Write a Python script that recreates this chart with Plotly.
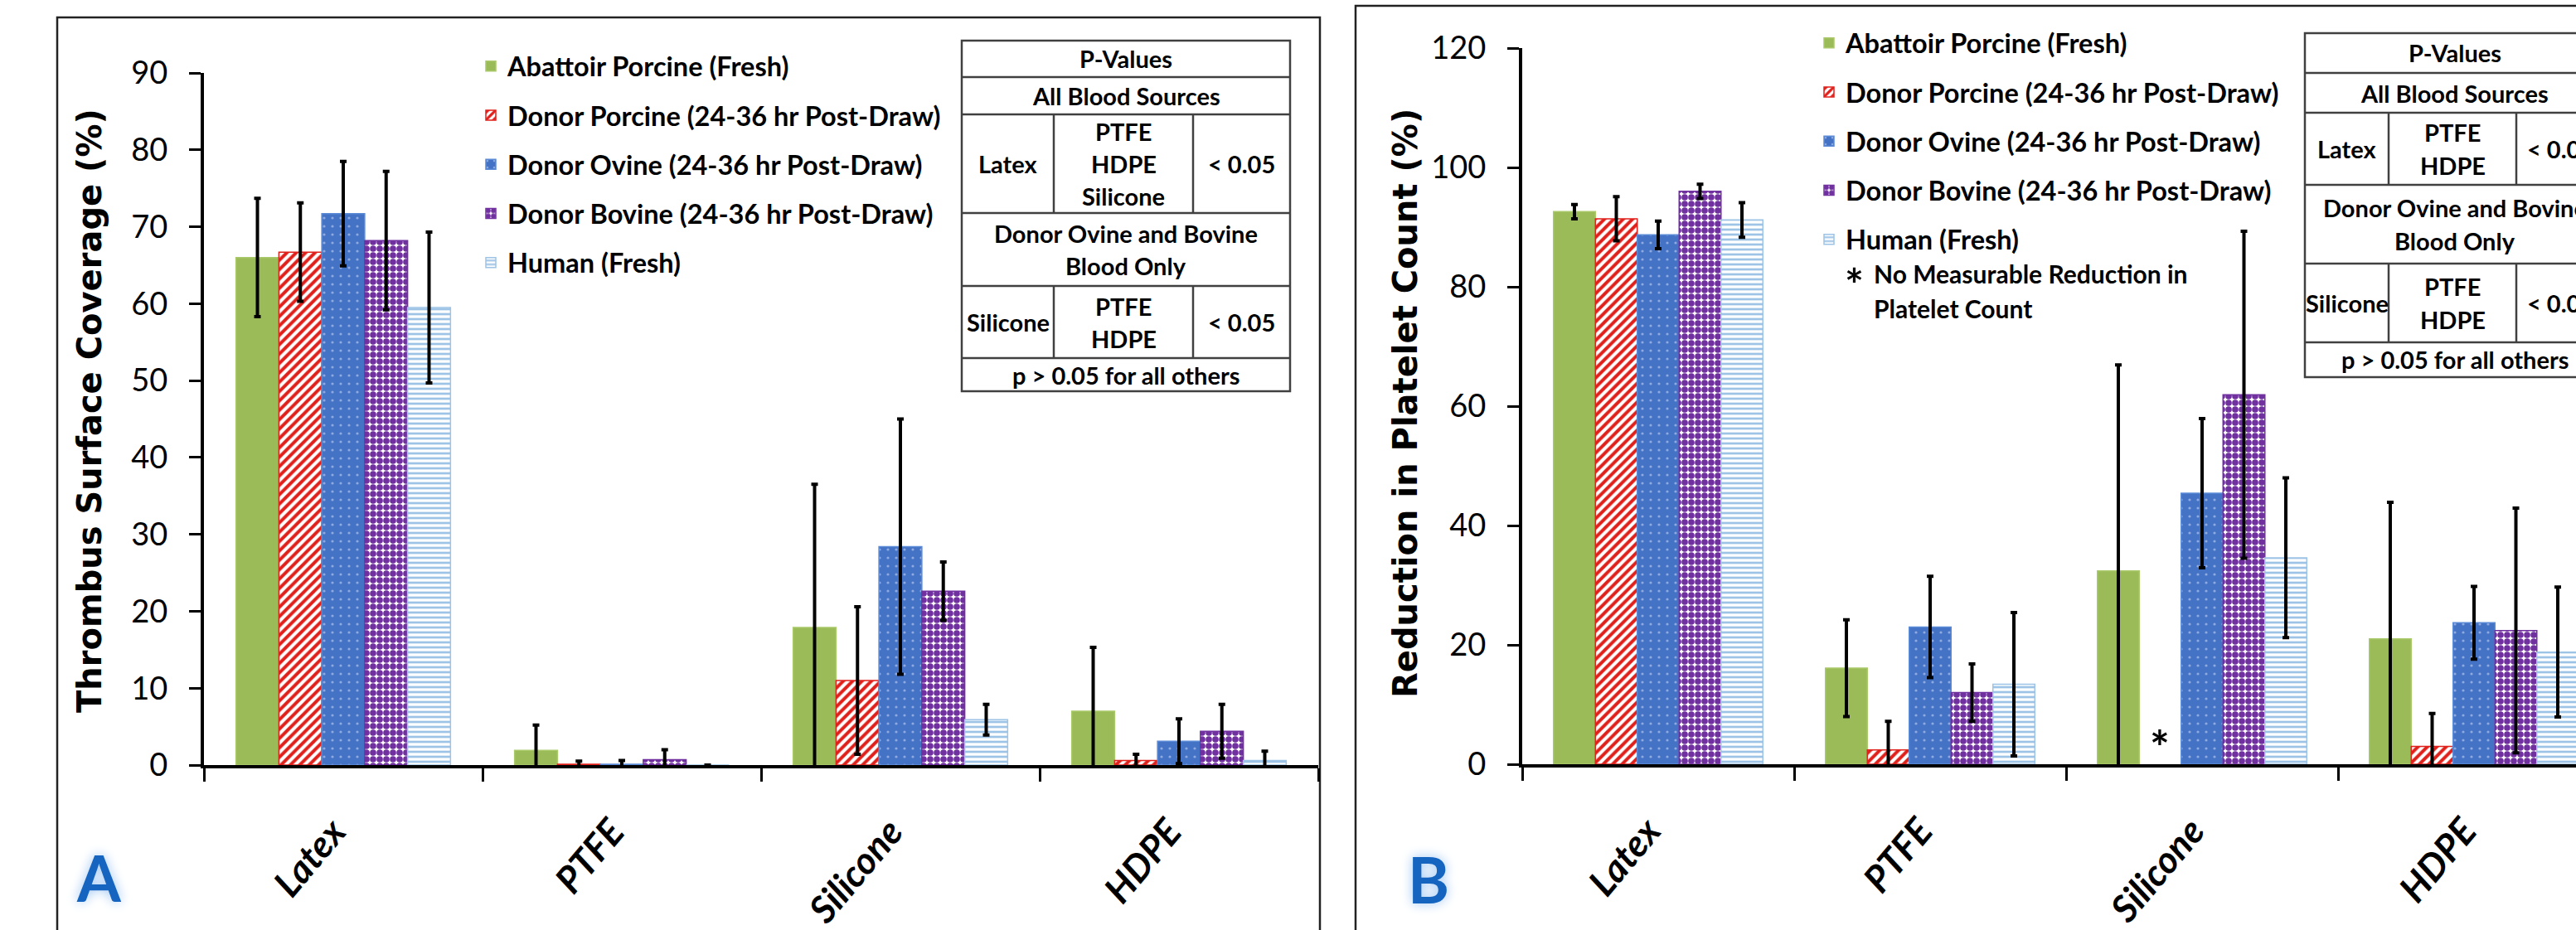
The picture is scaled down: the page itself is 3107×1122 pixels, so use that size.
import plotly.graph_objects as go

W, H = 3107, 1122

# ---------------- data ----------------
categories = ["Latex", "PTFE", "Silicone", "HDPE"]
series_names = [
    "Abattoir Porcine (Fresh)",
    "Donor Porcine (24-36 hr Post-Draw)",
    "Donor Ovine (24-36 hr Post-Draw)",
    "Donor Bovine (24-36 hr Post-Draw)",
    "Human (Fresh)",
]

# Panel A: Thrombus surface coverage (%)
abattoir_cov = [66.0, 1.9, 17.9, 7.0]
abattoir_cov_err = [7.7, 3.3, 18.6, 8.3]
donor_porcine_cov = [66.7, 0.1, 11.0, 0.6]
donor_porcine_cov_err = [6.4, 0.4, 9.6, 0.8]
donor_ovine_cov = [71.7, 0.1, 28.4, 3.1]
donor_ovine_cov_err = [6.8, 0.5, 16.6, 2.9]
donor_bovine_cov = [68.2, 0.7, 22.6, 4.4]
donor_bovine_cov_err = [9.0, 1.3, 3.8, 3.5]
human_cov = [59.5, 0.0, 5.9, 0.6]
human_cov_err = [9.8, 0.0, 2.0, 1.2]

# Panel B: Reduction in platelet count (%)
abattoir_plt = [92.6, 16.1, 32.4, 21.0]
abattoir_plt_err = [1.2, 8.1, 34.5, 22.9]
donor_porcine_plt = [91.4, 2.4, None, 3.0]
donor_porcine_plt_err = [3.7, 4.8, None, 5.5]
donor_ovine_plt = [88.7, 23.0, 45.4, 23.7]
donor_ovine_plt_err = [2.3, 8.5, 12.5, 6.1]
donor_bovine_plt = [96.0, 12.0, 61.9, 22.4]
donor_bovine_plt_err = [1.2, 4.8, 27.4, 20.5]
human_plt = [91.2, 13.4, 34.6, 18.8]
human_plt_err = [2.9, 12.0, 13.4, 10.9]

yticks_a = [0, 10, 20, 30, 40, 50, 60, 70, 80, 90]
yticks_b = [0, 20, 40, 60, 80, 100, 120]

# p-value tables: each row is a list of cells, each cell a list of text lines
table_a_rows = [
    [["P-Values"]],
    [["All Blood Sources"]],
    [["Latex"], ["PTFE", "HDPE", "Silicone"], ["< 0.05"]],
    [["Donor Ovine and Bovine", "Blood Only"]],
    [["Silicone"], ["PTFE", "HDPE"], ["< 0.05"]],
    [["p > 0.05 for all others"]],
]
table_b_rows = [
    [["P-Values"]],
    [["All Blood Sources"]],
    [["Latex"], ["PTFE", "HDPE"], ["< 0.05"]],
    [["Donor Ovine and Bovine", "Blood Only"]],
    [["Silicone"], ["PTFE", "HDPE"], ["< 0.05"]],
    [["p > 0.05 for all others"]],
]

cov_vals = [abattoir_cov, donor_porcine_cov, donor_ovine_cov, donor_bovine_cov, human_cov]
cov_errs = [abattoir_cov_err, donor_porcine_cov_err, donor_ovine_cov_err, donor_bovine_cov_err, human_cov_err]
plt_vals = [abattoir_plt, donor_porcine_plt, donor_ovine_plt, donor_bovine_plt, human_plt]
plt_errs = [abattoir_plt_err, donor_porcine_plt_err, donor_ovine_plt_err, donor_bovine_plt_err, human_plt_err]

# ---------------- styles ----------------
styles = [
    dict(color="#9BBB59", line=dict(color="#a9c96a", width=1.5)),
    dict(color="white", line=dict(color="#e0201b", width=1.5),
         pattern=dict(shape="/", fgcolor="#e0201b", bgcolor="white", size=8, solidity=0.5)),
    dict(color="#4472C4", line=dict(color="#5b8ad6", width=1.5),
         pattern=dict(shape=".", fgcolor="#8eaae0", bgcolor="#4472C4", size=10, solidity=0.08)),
    dict(color="white", line=dict(color="#7030A0", width=1.5),
         pattern=dict(shape=".", fgcolor="#7030A0", bgcolor="white", size=8, solidity=0.72)),
    dict(color="white", line=dict(color="#9DC3E6", width=1.5),
         pattern=dict(shape="-", fgcolor="#9DC3E6", bgcolor="white", size=6, solidity=0.45)),
]

FONT = "Lato, Carlito, 'Open Sans', sans-serif"
TITLE_FONT = "DejaVu Sans, Verdana, sans-serif"


def px(x):
    return x / W


def py(y):
    return 1 - y / H


fig = go.Figure()

for i, name in enumerate(series_names):
    fig.add_trace(go.Bar(
        x=categories, y=cov_vals[i], name=name, marker=styles[i],
        error_y=dict(type="data", array=cov_errs[i], visible=True, color="black", thickness=4, width=4),
        xaxis="x", yaxis="y", legend="legend", legendgroup="a%d" % i,
    ))
for i, name in enumerate(series_names):
    fig.add_trace(go.Bar(
        x=categories, y=plt_vals[i], name=name, marker=styles[i],
        error_y=dict(type="data", array=plt_errs[i], visible=True, color="black", thickness=4, width=4),
        xaxis="x2", yaxis="y2", legend="legend2", legendgroup="b%d" % i,
    ))

xaxis_common = dict(
    type="category", showline=True, linecolor="black", linewidth=4,
    ticks="outside", tickson="boundaries", ticklen=16, tickwidth=3, tickcolor="black",
    tickangle=-50, showgrid=False, zeroline=False, automargin=False,
    tickfont=dict(family=FONT, size=45, color="black", weight="bold", style="italic"),
    ticklabelstandoff=32, ticklabelshift=-12,
)
yaxis_common = dict(
    showline=True, linecolor="black", linewidth=4, ticks="outside", ticklen=14,
    tickwidth=3, tickcolor="black", showgrid=False, zeroline=False, automargin=False,
    tickfont=dict(family=FONT, size=38, color="black"), ticklabelstandoff=18,
)

bargap = 0.23
legend_font = dict(family=FONT, size=32.5, color="black", weight="bold")
fig.update_layout(
    template="none",
    width=W, height=H, autosize=False,
    margin=dict(l=0, r=0, t=0, b=0, pad=0, autoexpand=False),
    paper_bgcolor="white", plot_bgcolor="white",
    barmode="group", bargap=bargap, bargroupgap=0,
    showlegend=True,
    xaxis=dict(domain=[px(246), px(1590)], anchor="y", range=[-0.5, 3.5], **xaxis_common),
    yaxis=dict(domain=[py(923), py(88)], anchor="x", range=[0, 90], tickvals=yticks_a, **yaxis_common),
    xaxis2=dict(domain=[px(1836), 1.0], anchor="y2", range=[-0.5, 3.375], **xaxis_common),
    yaxis2=dict(domain=[py(922), py(58)], anchor="x2", range=[0, 120], tickvals=yticks_b, **yaxis_common),
    legend=dict(x=px(572), y=py(52), xanchor="left", yanchor="top", bgcolor="rgba(0,0,0,0)",
                font=legend_font, tracegroupgap=14, itemwidth=30, borderwidth=0),
    legend2=dict(x=px(2186), y=py(24), xanchor="left", yanchor="top", bgcolor="rgba(0,0,0,0)",
                 font=legend_font, tracegroupgap=14, itemwidth=30, borderwidth=0),
)

shapes = []
annotations = []

# panel frames
shapes.append(dict(type="rect", xref="paper", yref="paper", x0=px(69), x1=px(1592), y0=-0.1, y1=py(21),
                   line=dict(color="#222", width=2.5), layer="below"))
shapes.append(dict(type="rect", xref="paper", yref="paper", x0=px(1635), x1=1.1, y0=-0.1, y1=py(7),
                   line=dict(color="#222", width=2.5), layer="below"))

# y-axis titles
title_font = dict(family=TITLE_FONT, size=40, color="black", weight="bold")
annotations.append(dict(text="Thrombus Surface Coverage (%)", xref="paper", yref="paper",
                        x=px(108), y=py(496), xanchor="center", yanchor="middle",
                        showarrow=False, textangle=-90, font=title_font))
annotations.append(dict(text="Reduction in Platelet Count (%)", xref="paper", yref="paper",
                        x=px(1695), y=py(486), xanchor="center", yanchor="middle",
                        showarrow=False, textangle=-90, font=title_font))

# panel letters
for letter, (lx, ly) in [("A", (119, 1058)), ("B", (1723, 1060))]:
    annotations.append(dict(text=letter, xref="paper", yref="paper", x=px(lx), y=py(ly),
                            showarrow=False, xanchor="center", yanchor="middle",
                            font=dict(family=FONT, size=76, color="#1565c0", weight="bold",
                                      shadow="0px 0px 14px #9cc4f2")))

# asterisk where there is no measurable reduction (Silicone / Donor Porcine)
bar_w = (1 - bargap) / 5
annotations.append(dict(text="*", xref="x2", yref="y2", x=2 + (1 - 2) * bar_w, y=3.0, showarrow=False,
                        xanchor="center", yanchor="middle",
                        font=dict(family=FONT, size=56, color="black", weight="bold")))
annotations.append(dict(text="*", xref="paper", yref="paper", x=px(2236), y=py(342), showarrow=False,
                        xanchor="center", yanchor="middle",
                        font=dict(family=FONT, size=54, color="black", weight="bold")))
for txt, ly in [("No Measurable Reduction in", 330), ("Platelet Count", 372)]:
    annotations.append(dict(text=txt, xref="paper", yref="paper", x=px(2258), y=py(ly),
                            xanchor="left", yanchor="middle", showarrow=False,
                            font=dict(family=FONT, size=30, color="black", weight="bold")))


def draw_table(x_edges, row_edges, rows, split_rows, line_gap=39):
    x0, c1, c2, x1 = x_edges
    lc = dict(color="#404040", width=2.5)
    shapes.append(dict(type="rect", xref="paper", yref="paper", x0=px(x0), x1=px(x1),
                       y0=py(row_edges[-1]), y1=py(row_edges[0]), line=lc, fillcolor="white"))
    for ye in row_edges[1:-1]:
        shapes.append(dict(type="line", xref="paper", yref="paper", x0=px(x0), x1=px(x1),
                           y0=py(ye), y1=py(ye), line=lc))
    for r in split_rows:
        for cx in (c1, c2):
            shapes.append(dict(type="line", xref="paper", yref="paper", x0=px(cx), x1=px(cx),
                               y0=py(row_edges[r]), y1=py(row_edges[r + 1]), line=lc))
    for r, cells in enumerate(rows):
        ymid = (row_edges[r] + row_edges[r + 1]) / 2
        if len(cells) == 1:
            centers = [(x0 + x1) / 2]
        else:
            centers = [(x0 + c1) / 2, (c1 + c2) / 2, (c2 + x1) / 2]
        for cx, lines in zip(centers, cells):
            n = len(lines)
            for k, txt in enumerate(lines):
                ly = ymid + (k - (n - 1) / 2) * line_gap
                annotations.append(dict(text=txt, xref="paper", yref="paper", x=px(cx), y=py(ly),
                                        xanchor="center", yanchor="middle", showarrow=False,
                                        font=dict(family=FONT, size=29, color="black", weight="bold")))


draw_table((1160, 1271, 1439, 1556), [49, 93, 138, 257, 345, 432, 472], table_a_rows, [2, 4])
draw_table((2780, 2881, 3035, 3141), [40, 88, 136, 223, 318, 413, 455], table_b_rows, [2, 4])

fig.update_layout(shapes=shapes, annotations=annotations)
fig.write_html(
    "out.html",
    config={"displayModeBar": False},
    post_script="document.body.style.margin='0';document.body.style.overflow='hidden';",
)
